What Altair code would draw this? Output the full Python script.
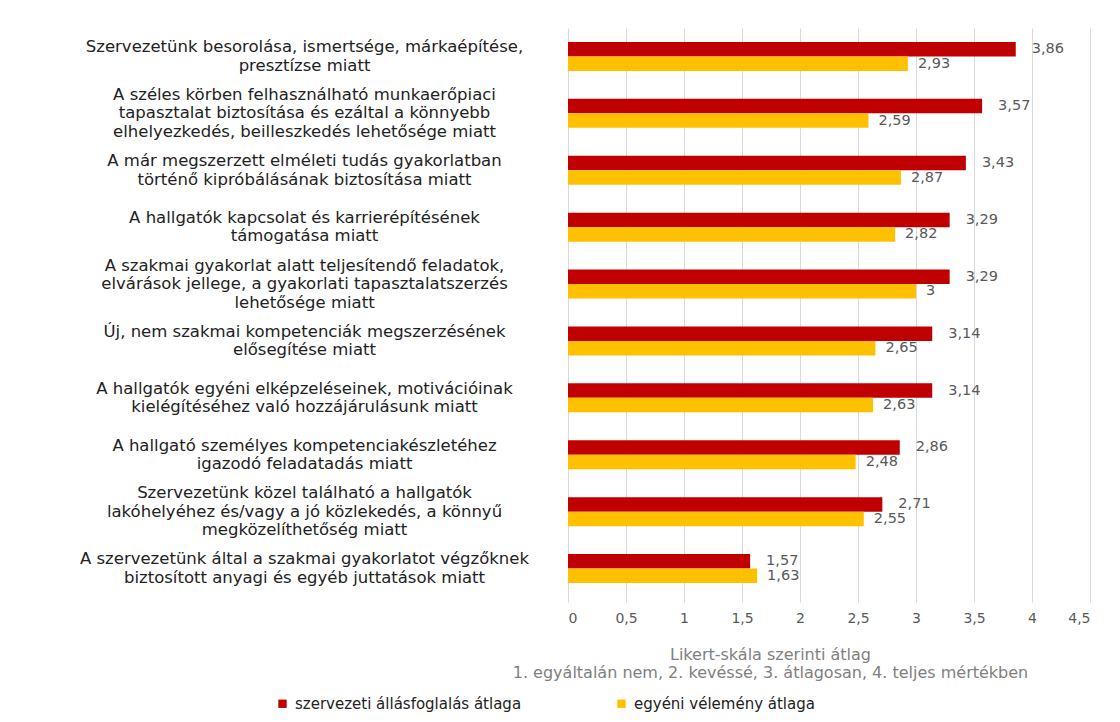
import altair as alt
import pandas as pd

categories = [
    "Szervezetünk besorolása, ismertsége, márkaépítése,\npresztízse miatt",
    "A széles körben felhasználható munkaerőpiaci\ntapasztalat biztosítása és ezáltal a könnyebb\nelhelyezkedés, beilleszkedés lehetősége miatt",
    "A már megszerzett elméleti tudás gyakorlatban\ntörténő kipróbálásának biztosítása miatt",
    "A hallgatók kapcsolat és karrierépítésének\ntámogatása miatt",
    "A szakmai gyakorlat alatt teljesítendő feladatok,\nelvárások jellege, a gyakorlati tapasztalatszerzés\nlehetősége miatt",
    "Új, nem szakmai kompetenciák megszerzésének\nelősegítése miatt",
    "A hallgatók egyéni elképzeléseinek, motivációinak\nkielégítéséhez való hozzájárulásunk miatt",
    "A hallgató személyes kompetenciakészletéhez\nigazodó feladatadás miatt",
    "Szervezetünk közel található a hallgatók\nlakóhelyéhez és/vagy a jó közlekedés, a könnyű\nmegközelíthetőség miatt",
    "A szervezetünk által a szakmai gyakorlatot végzőknek\nbiztosított anyagi és egyéb juttatások miatt",
]
series_names = ["szervezeti állásfoglalás átlaga", "egyéni vélemény átlaga"]
org_values = [3.86, 3.57, 3.43, 3.29, 3.29, 3.14, 3.14, 2.86, 2.71, 1.57]
ind_values = [2.93, 2.59, 2.87, 2.82, 3, 2.65, 2.63, 2.48, 2.55, 1.63]
x_ticks = [0, 0.5, 1, 1.5, 2, 2.5, 3, 3.5, 4, 4.5]
colors = ["#C00000", "#FFC000"]

rows = []
for c, a, b in zip(categories, org_values, ind_values):
    rows.append({"cat": c, "series": series_names[0], "value": a})
    rows.append({"cat": c, "series": series_names[1], "value": b})
df = pd.DataFrame(rows)

FONT = "DejaVu Sans"
LH = 18.5

y_enc = alt.Y(
    "cat:N",
    sort=categories,
    scale=alt.Scale(paddingInner=0.49, paddingOuter=0.245),
    axis=alt.Axis(
        title=None,
        labelExpr="split(datum.label, '\\n')",
        labelAlign="center",
        labelBaseline="middle",
        labelPadding=264,
        labelLimit=700,
        labelOffset={
            "condition": {"test": "length(split(datum.label, '\\n')) == 3", "value": -LH},
            "value": -LH / 2,
        },
        labelFont=FONT,
        labelFontSize=16.5,
        labelLineHeight=LH,
        labelColor="#222222",
        ticks=False,
        domain=False,
        grid=False,
    ),
)
x_enc = alt.X(
    "value:Q",
    scale=alt.Scale(domain=[0, 4.5], nice=False),
    axis=alt.Axis(
        values=x_ticks,
        labelExpr="replace(toString(datum.value), '.', ',')",
        title=["Likert-skála szerinti átlag",
               "1. egyáltalán nem, 2. kevéssé, 3. átlagosan, 4. teljes mértékben"],
        titleFont=FONT,
        titleFontSize=16,
        titleFontWeight="normal",
        titleColor="#808080",
        titleX=202,
        titleY=49,
        titleAlign="center",
        titleBaseline="top",
        titleLineHeight=18,
        labelFont=FONT,
        labelFontSize=14,
        labelColor="#595959",
        labelPadding=9,
        tickSize=5,
        tickColor="#D9D9D9",
        domain=False,
        grid=True,
        gridColor="#D9D9D9",
        gridWidth=1,
    ),
)
yoff = alt.YOffset("series:N", sort=series_names)

bars = alt.Chart(df).mark_bar().encode(
    y=y_enc,
    x=x_enc,
    yOffset=yoff,
    color=alt.Color(
        "series:N",
        sort=series_names,
        scale=alt.Scale(domain=series_names, range=colors),
        legend=alt.Legend(
            title=None,
            orient="none",
            direction="horizontal",
            legendX=-293,
            legendY=668,
            symbolType="square",
            symbolSize=70,
            symbolStrokeWidth=0,
            labelFont=FONT,
            labelFontSize=15,
            labelColor="#222222",
            labelOffset=5,
            columnPadding=92,
            labelLimit=400,
        ),
    ),
)

label_base = alt.Chart(df).transform_calculate(
    lbl="replace(toString(datum.value), '.', ',')"
)
labels_org = label_base.transform_filter(
    alt.datum.series == series_names[0]
).mark_text(align="left", baseline="middle", dx=16, font=FONT, fontSize=14.5, color="#595959").encode(
    y=alt.Y("cat:N", sort=categories), x="value:Q", yOffset=yoff, text="lbl:N"
)
labels_ind = label_base.transform_filter(
    alt.datum.series == series_names[1]
).mark_text(align="left", baseline="middle", dx=10, font=FONT, fontSize=14.5, color="#595959").encode(
    y=alt.Y("cat:N", sort=categories), x="value:Q", yOffset=yoff, text="lbl:N"
)

chart = alt.layer(bars, labels_org, labels_ind).properties(
    width=522,
    height=569,
    autosize=alt.AutoSizeParams(type="none"),
    padding={"left": 568, "top": 28, "right": 30, "bottom": 125},
    background="white",
).configure_view(stroke=None)

chart.save("out.html", embed_options={"renderer": "svg", "actions": False})
